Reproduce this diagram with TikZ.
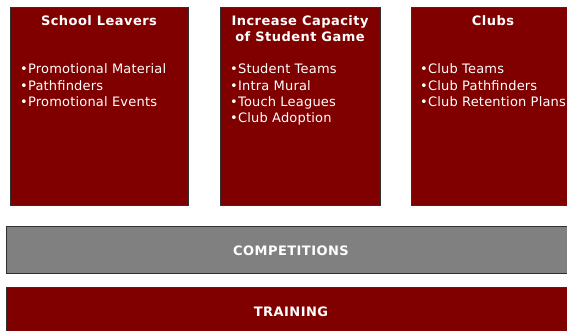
\documentclass[tikz,border=0pt]{standalone}
\usepackage{fontspec}
\setmainfont{DejaVu Sans}
\newfontfamily\headfont[LetterSpace=3.5]{DejaVu Sans}
\newfontfamily\bodyfont[LetterSpace=1.5]{DejaVu Sans}
\definecolor{boxred}{HTML}{800000}
\definecolor{bargray}{HTML}{808080}
\definecolor{edge}{HTML}{303030}
\begin{document}
\begin{tikzpicture}[x=1pt,y=-1pt,
  panel/.style={draw=edge,line width=0.8pt,fill=boxred},
  graybar/.style={draw=edge,line width=0.8pt,fill=bargray},
  title/.style={text=white,font=\headfont\fontsize{13}{15}\selectfont\bfseries,inner sep=0pt,anchor=base},
  item/.style={text=white,font=\bodyfont\fontsize{13}{15}\selectfont,inner sep=0pt,anchor=base west}]
\useasboundingbox (0,0) rectangle (567,331);
% panels
\path[panel] (10,7) rectangle (188,205);
\path[panel] (220,7) rectangle (380,205);
\path[panel] (411,7) rectangle (580,205);
\path[graybar] (6,226) rectangle (580,273);
\path[panel] (6,287) rectangle (580,340);
% titles
\node[title] (t1) at (99,26) {School Leavers};
\node[title] (t2a) at (300,26) {Increase Capacity};
\node[title] (t2b) at (300,41.5) {of Student Game};
\node[title] (t3) at (493,26) {Clubs};
\node[title] (comp) at (291,255) {COMPETITIONS};
\node[title] (train) at (291,316.5) {TRAINING};
% items
\node[item] (a1) at (20,74) {•Promotional Material};
\node[item] (a2) at (20,90.3) {•Pathfinders};
\node[item] (a3) at (20,106.6) {•Promotional Events};
\node[item] (b1) at (230,74) {•Student Teams};
\node[item] (b2) at (230,90.3) {•Intra Mural};
\node[item] (b3) at (230,106.6) {•Touch Leagues};
\node[item] (b4) at (230,122.9) {•Club Adoption};
\node[item] (c1) at (420,74) {•Club Teams};
\node[item] (c2) at (420,90.3) {•Club Pathfinders};
\node[item] (c3) at (420,106.6) {•Club Retention Plans};
\end{tikzpicture}
\end{document}
